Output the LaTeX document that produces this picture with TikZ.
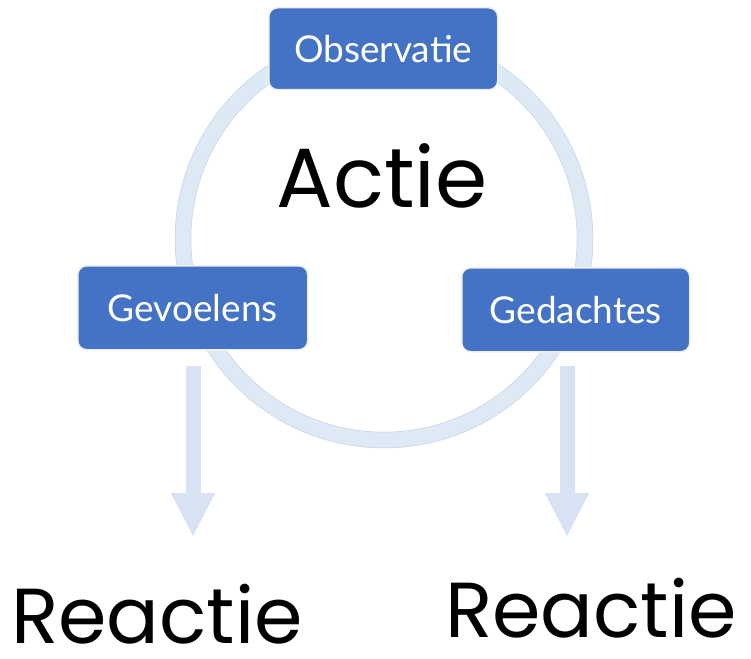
\documentclass[tikz,border=0pt]{standalone}
\usepackage{fontspec}
\setmainfont{Lato}
\newfontfamily\handfont{Poppins}
\usetikzlibrary{arrows.meta}
\definecolor{boxblue}{HTML}{4472C4}
\definecolor{ringblue}{HTML}{DDEAF6}
\definecolor{ringedge}{HTML}{CBD6E2}
\definecolor{arrowblue}{HTML}{D9E2F3}
\tikzset{
  x=1pt, y=-1pt,
  stepbox/.style={draw=white!88!gray, line width=1.5pt, fill=boxblue, rounded corners=9pt,
    text=white, font=\fontsize{37}{42}\selectfont, inner sep=0pt, anchor=north west},
  ring/.style={draw=ringblue, line width=15pt},
  ringrim/.style={draw=ringedge, line width=16.5pt},
  flowarrow/.style={draw=arrowblue, line width=15pt,
    -{Triangle[length=44pt,width=41pt]}},
  bigword/.style={font=\handfont\fontsize{#1}{#1}\selectfont, text=black, inner sep=0pt}
}
\begin{document}
\begin{tikzpicture}
\useasboundingbox (0,0) rectangle (751,658);

% the action cycle
\draw[ringrim] (384,239) circle[radius=201];
\draw[ring] (384,239) circle[radius=201];

% the three stages on the cycle
\node[stepbox, minimum width=229pt, minimum height=82pt] (obs) at (268,7) {Observatie};
\node[stepbox, minimum width=230pt, minimum height=84pt] (gev) at (77,265) {Gevoelens};
\node[stepbox, minimum width=228pt, minimum height=84pt] (ged) at (461,267) {Gedachtes};

\node[bigword=84] (act) at (382,176) {Actie};

% reactions
\node[bigword=78] (rl) at (157,614) {Reactie};
\node[bigword=78] (rr) at (591,608) {Reactie};

\coordinate (gevout) at (193,366);
\coordinate (gedout) at (567,366);
\coordinate (rlin) at (193,537);
\coordinate (rrin) at (567,537);
\draw[flowarrow] (gevout) -- (rlin);
\draw[flowarrow] (gedout) -- (rrin);
\end{tikzpicture}
\end{document}
